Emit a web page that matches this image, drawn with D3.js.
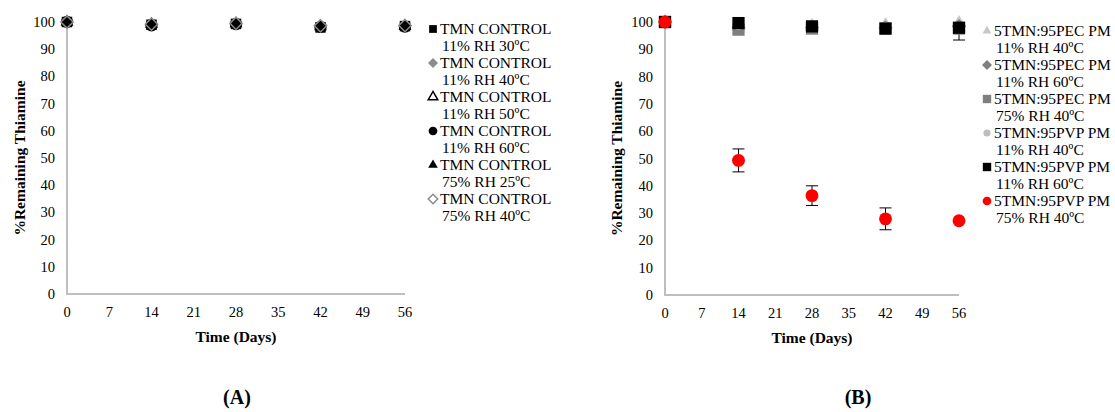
<!DOCTYPE html>
<html>
<head>
<meta charset="utf-8">
<script src="https://cdn.jsdelivr.net/npm/d3@7"></script>
<style>
  body { margin: 0; background: #fff; }
  text { font-family: "Liberation Serif", "Times New Roman", serif; fill: #000; }
</style>
</head>
<body>
<svg id="chart" width="1115" height="412"></svg>
<script>
// data
const days = [0, 14, 28, 42, 56];
const xTicks = [0, 7, 14, 21, 28, 35, 42, 49, 56];
const yTicks = [0, 10, 20, 30, 40, 50, 60, 70, 80, 90, 100];

const namesA = ["TMN CONTROL|11% RH 30ºC", "TMN CONTROL|11% RH 40ºC", "TMN CONTROL|11% RH 50ºC",
  "TMN CONTROL|11% RH 60ºC", "TMN CONTROL|75% RH 25ºC", "TMN CONTROL|75% RH 40ºC"];
const valsA = [
  [100, 99.0, 99.3, 98.0, 98.5],
  [100, 99.3, 99.5, 98.5, 98.6],
  [100, 99.2, 99.4, 98.3, 98.4],
  [100, 98.8, 99.2, 98.2, 98.3],
  [100, 99.0, 99.4, 98.4, 98.5],
  [100, 99.2, 99.5, 98.6, 98.7]
];

const namesB = ["5TMN:95PEC PM|11% RH 40ºC", "5TMN:95PEC PM|11% RH 60ºC", "5TMN:95PEC PM|75% RH 40ºC",
  "5TMN:95PVP PM|11% RH 40ºC", "5TMN:95PVP PM|11% RH 60ºC", "5TMN:95PVP PM|75% RH 40ºC"];
const valsB = [
  [100, 98.5, 98.5, 98.8, 99.5],
  [100, 98.0, 98.0, 98.0, 98.5],
  [100, 97.2, 97.6, 97.6, 97.6],
  [100, 99.0, 98.5, 98.0, 98.0],
  [100, 99.6, 98.4, 97.6, 97.9],
  [100, 49.3, 36.4, 27.9, 27.2]
];
const errB = [
  [0, 0, 0, 0, 0],
  [0, 0, 0, 0, 0],
  [0, 0, 0, 0, 0],
  [0, 0, 0, 0, 0],
  [0, 0, 0, 0, 4.5],
  [0, 4.2, 3.6, 4.0, 0]
];

// square rotated 45 degrees, as Excel draws its diamond marker
const diamond = {
  draw(ctx, size) {
    const r = Math.sqrt(size / 2);
    ctx.moveTo(0, -r); ctx.lineTo(r, 0); ctx.lineTo(0, r); ctx.lineTo(-r, 0); ctx.closePath();
  }
};

const styleA = [
  {type: d3.symbolSquare, fill: "#000", stroke: "none"},
  {type: diamond, fill: "#8c8c8c", stroke: "none"},
  {type: d3.symbolTriangle, fill: "#fff", stroke: "#000"},
  {type: d3.symbolCircle, fill: "#000", stroke: "none"},
  {type: d3.symbolTriangle, fill: "#000", stroke: "none"},
  {type: diamond, fill: "none", stroke: "#8c8c8c"}
];
const styleB = [
  {type: d3.symbolTriangle, fill: "#c8c8c8", stroke: "none"},
  {type: diamond, fill: "#808080", stroke: "none"},
  {type: d3.symbolSquare, fill: "#7f7f7f", stroke: "none"},
  {type: d3.symbolCircle, fill: "#bdbdbd", stroke: "none"},
  {type: d3.symbolSquare, fill: "#000", stroke: "none"},
  {type: d3.symbolCircle, fill: "#ff0000", stroke: "none"}
];

const svg = d3.select("#chart");

function panel(opt) {
  const x = d3.scaleLinear().domain([0, 56]).range([opt.x0, opt.x1]);
  const y = d3.scaleLinear().domain([0, 100]).range([opt.y0, opt.y1]);
  const g = svg.append("g");

  const clipId = "clip" + opt.label.replace(/\W/g, "");
  svg.append("clipPath").attr("id", clipId).append("rect")
    .attr("x", x(0) - 20).attr("y", y(100) - 1).attr("width", x(56) - x(0) + 40).attr("height", y(0) - y(100) + 2);

  // axis lines
  g.append("line").attr("x1", x(0)).attr("x2", x(0)).attr("y1", y(0)).attr("y2", y(100))
    .attr("stroke", "#bfbfbf").attr("stroke-width", 2);
  g.append("line").attr("x1", x(0) - 1).attr("x2", x(56)).attr("y1", y(0)).attr("y2", y(0))
    .attr("stroke", "#bfbfbf").attr("stroke-width", 2);

  g.selectAll(".yt").data(yTicks).join("text")
    .attr("x", x(0) - 12).attr("y", d => y(d)).attr("dy", "0.35em")
    .attr("text-anchor", "end").attr("font-size", 14.5).text(d => d);
  g.selectAll(".xt").data(xTicks).join("text")
    .attr("x", d => x(d)).attr("y", y(0) + 23)
    .attr("text-anchor", "middle").attr("font-size", 14.5).text(d => d);

  g.append("text").attr("x", (x(0) + x(56)) / 2).attr("y", y(0) + 48)
    .attr("text-anchor", "middle").attr("font-size", 15.5).attr("font-weight", "bold").text("Time (Days)");
  g.append("text").attr("transform", `translate(${opt.yTitleX},${(y(0) + y(100)) / 2}) rotate(-90)`)
    .attr("text-anchor", "middle").attr("dy", "0.35em")
    .attr("font-size", 15.5).attr("font-weight", "bold").text("%Remaining Thiamine");

  // error bars (clipped to the plot area like the original)
  const eg = g.append("g").attr("clip-path", `url(#${clipId})`).attr("stroke", "#000").attr("stroke-width", 1);
  opt.vals.forEach((vs, i) => {
    const es = opt.errs ? opt.errs[i] : null;
    if (!es) return;
    vs.forEach((v, j) => {
      const e = es[j];
      if (!e) return;
      const cx = x(days[j]);
      eg.append("line").attr("x1", cx).attr("x2", cx).attr("y1", y(v - e)).attr("y2", y(v + e));
      eg.append("line").attr("x1", cx - 6).attr("x2", cx + 6).attr("y1", y(v - e)).attr("y2", y(v - e));
      eg.append("line").attr("x1", cx - 6).attr("x2", cx + 6).attr("y1", y(v + e)).attr("y2", y(v + e));
    });
  });

  // markers, drawn in the given order
  opt.order.forEach(i => {
    const st = opt.styles[i];
    g.selectAll(null).data(opt.vals[i]).join("path")
      .attr("transform", (d, j) => `translate(${x(days[j])},${y(d)})`)
      .attr("d", d3.symbol().type(st.type).size(opt.sizes[i]))
      .attr("fill", st.fill).attr("stroke", st.stroke).attr("stroke-width", 1.5);
  });

  // legend
  opt.names.forEach((n, i) => {
    const st = opt.styles[i];
    const ly = opt.legY + i * 34;
    const parts = n.split("|");
    g.append("path").attr("transform", `translate(${opt.legX},${ly})`)
      .attr("d", d3.symbol().type(st.type).size(opt.legSizes[i]))
      .attr("fill", st.fill).attr("stroke", st.stroke).attr("stroke-width", 1.5);
    g.append("text").attr("x", opt.legX + 7).attr("y", ly).attr("dy", "0.35em")
      .attr("font-size", 15.5).text(parts[0]);
    g.append("text").attr("x", opt.legX + 9).attr("y", ly + 17).attr("dy", "0.35em")
      .attr("font-size", 15.5).text(parts[1]);
  });

  svg.append("text").attr("x", opt.labelX).attr("y", 404).attr("text-anchor", "middle")
    .attr("font-size", 20).attr("font-weight", "bold").text(opt.label);
}

panel({
  x0: 67, x1: 405, y0: 294, y1: 22, yTitleX: 20,
  vals: valsA, names: namesA, styles: styleA, order: [1, 2, 4, 0, 3, 5],
  sizes: [110, 70, 45, 120, 45, 75], legSizes: [60, 50, 40, 60, 40, 45],
  legX: 433, legY: 29, labelX: 237, label: "(A)"
});
panel({
  x0: 665, x1: 959, y0: 295, y1: 22, yTitleX: 617,
  vals: valsB, names: namesB, styles: styleB, errs: errB, order: [0, 1, 2, 3, 4, 5],
  sizes: [90, 100, 150, 90, 150, 130], legSizes: [35, 50, 70, 40, 70, 60],
  legX: 987, legY: 31, labelX: 858, label: "(B)"
});
</script>
</body>
</html>
